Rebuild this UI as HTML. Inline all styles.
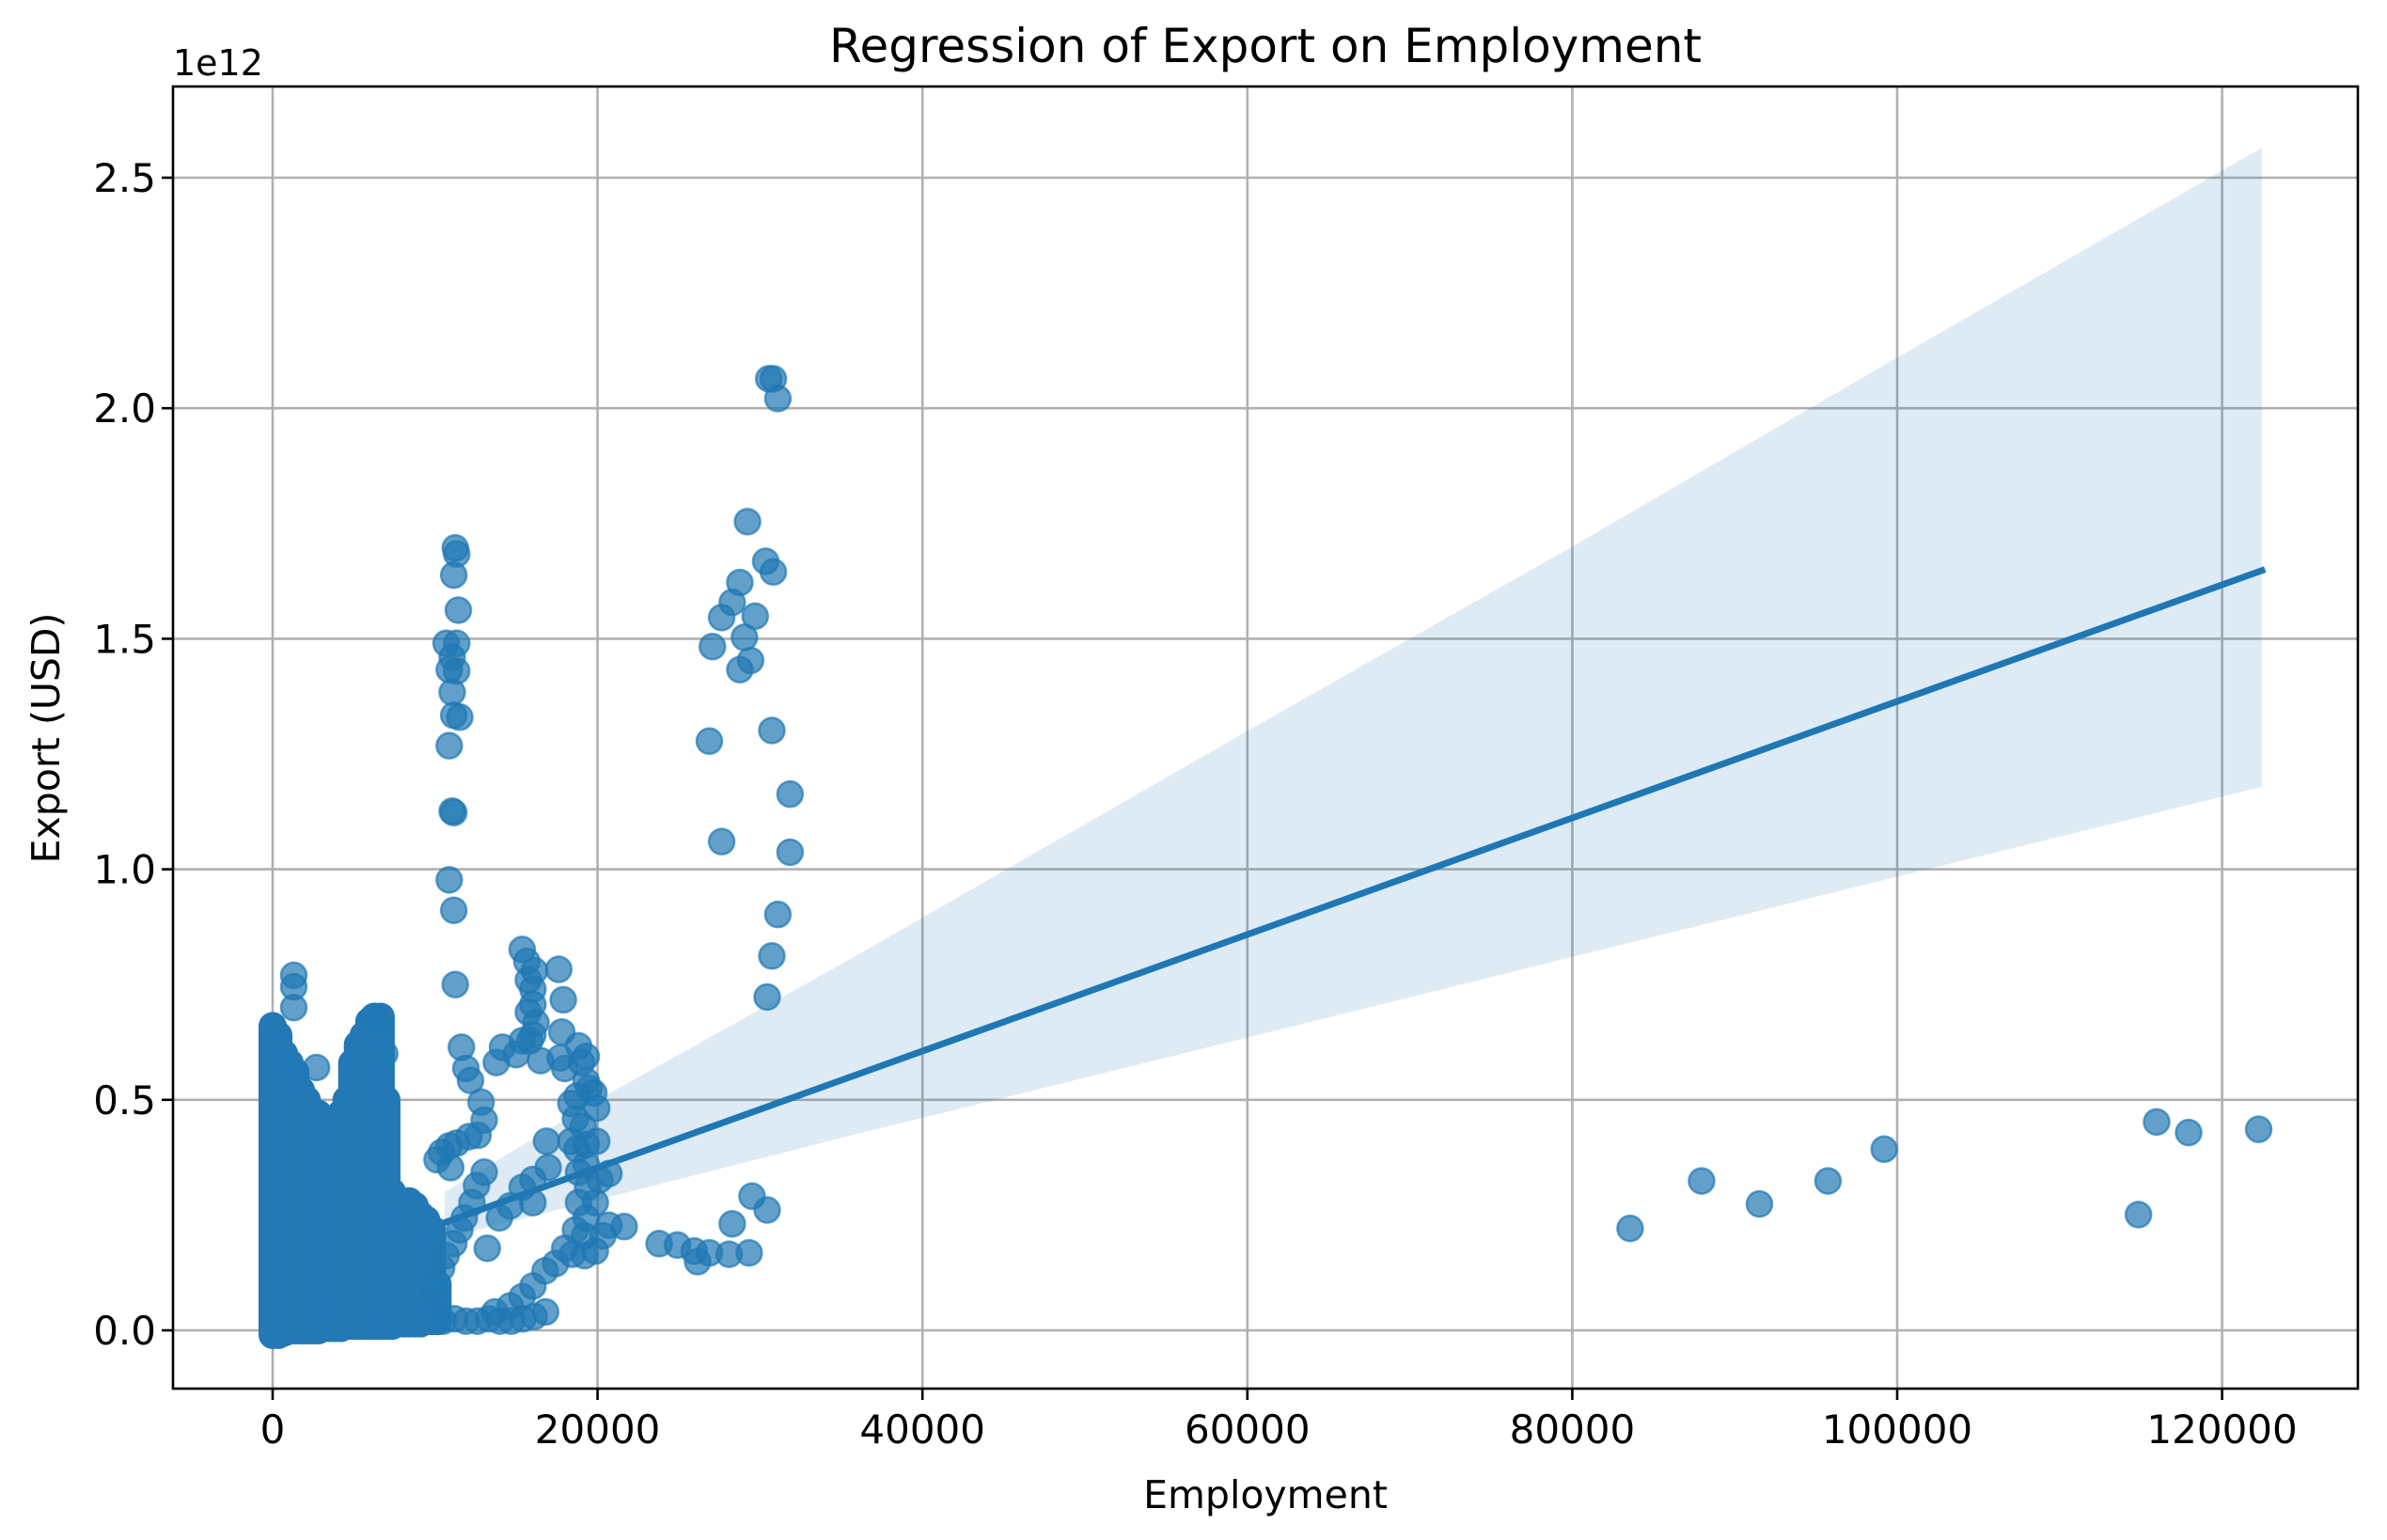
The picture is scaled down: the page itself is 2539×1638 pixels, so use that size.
<!DOCTYPE html>
<html><head><meta charset="utf-8"><style>
html,body{margin:0;padding:0;background:#fff;}
svg{display:block;font-family:"DejaVu Sans","Liberation Sans",sans-serif;}
</style></head><body>
<svg id="chart" width="2539" height="1638" viewBox="0 0 2539 1638" xmlns="http://www.w3.org/2000/svg">
<rect width="2539" height="1638" fill="#fff"/>
<g id="grid"></g>
<g id="band"></g>
<g id="points"></g>
<g id="reg"></g>
<g id="axes"></g>
<text x="1346" y="66" font-size="50" text-anchor="middle">Regression of Export on Employment</text>
<text x="1346" y="1604" font-size="41" text-anchor="middle">Employment</text>
<text x="0" y="0" font-size="41" text-anchor="middle" transform="translate(63,785) rotate(-90)">Export (USD)</text>
<text x="184" y="80" font-size="38">1e12</text>
</svg>
<script>
const xTicks = [0, 20000, 40000, 60000, 80000, 100000, 120000];
const xTickLabels = ["0","20000","40000","60000","80000","100000","120000"];
const yTicks = [0, 0.5, 1.0, 1.5, 2.0, 2.5];
const yTickLabels = ["0.0","0.5","1.0","1.5","2.0","2.5"];
const lineX = [10600, 122450];
const lineY = [0.234, 1.648];
const bandX = [10600, 20000, 35300, 60000, 80000, 100000, 122450];
const bandUpper = [0.30, 0.50, 0.80, 1.30, 1.70, 2.11, 2.565];
const bandLower = [0.20, 0.283, 0.42, 0.635, 0.81, 0.984, 1.179];
const pointX = [83560,87960,91520,95740,99200,114850,115970,117940,122250,
30540,30820,31100,29230,30350,30820,28760,28290,27640,29700,27070,29040,28760,29420,26880,30730,31850,27640,31850,31100,30730,30440,
29510,30440,28290,29330,28100,26880,25950,24920,23790,26160,21640,20700,20330,20140,20700,19860,
11240,11330,11150,11430,10680,11330,11050,10870,11330,11050,11150,11520,10870,11050,11150,10870,11150,11240,11620,11900,12180,12830,13020,12640,12080,11330,10870,10400,10120,10960,
10400,10680,11150,11520,11800,12270,12550,13020,9930,9740,
15360,15650,16120,17610,17890,17800,15740,16020,15740,16020,16210,16020,15830,15360,14990,14150,13770,16490,17700,17980,18830,19300,19020,19300,18740,18360,19480,19770,19950,18640,19110,18360,18740,19300,19950,19300,18830,19390,18830,19300,18640,19200,17980,18450,19200,19860,17420,16770,16020,15360,14620,13680,
16860,16960,16020,15360,14620,13960,13210,16020,
10500,11200,11900,12600,13300,14000,14700,15400,16100,16800,
1300,1300,1300,2700,6900,6600,6200];
const pointY = [0.221,0.324,0.274,0.324,0.393,0.251,0.452,0.429,0.436,
2.064,2.064,2.021,1.754,1.668,1.645,1.622,1.579,1.546,1.549,1.483,1.503,1.433,1.453,1.278,1.301,1.163,1.06,1.037,0.902,0.812,0.723,
0.291,0.261,0.231,0.168,0.165,0.168,0.172,0.185,0.188,0.149,0.225,0.228,0.205,0.327,0.340,0.277,
1.697,1.684,1.638,1.562,1.49,1.49,1.46,1.433,1.43,1.384,1.334,1.33,1.268,1.126,1.123,0.977,0.911,0.75,0.614,0.568,0.542,0.495,0.456,0.423,0.42,0.406,0.4,0.386,0.37,0.353,
0.135,0.162,0.188,0.218,0.244,0.277,0.314,0.343,0.096,0.063,
0.826,0.8,0.78,0.783,0.717,0.647,0.76,0.74,0.69,0.707,0.667,0.641,0.628,0.628,0.598,0.614,0.581,0.585,0.591,0.568,0.617,0.594,0.581,0.541,0.508,0.492,0.525,0.515,0.482,0.459,0.442,0.41,0.393,0.403,0.41,0.36,0.343,0.31,0.277,0.244,0.218,0.205,0.178,0.165,0.162,0.172,0.145,0.129,0.096,0.073,0.053,0.04,
0.41,0.353,0.327,0.31,0.27,0.244,0.178,0.277,
0.02,0.025,0.02,0.02,0.025,0.02,0.02,0.025,0.03,0.04,
0.70,0.745,0.77,0.57,0.60,0.66,0.68];
const runX = [0,350,700,1050,1400,1750,2100,2450,2800,3150,3500,3850,4200,4550,4900,5250,5600,5950,6300,6650,7000,7350,7700,8050,8400,8750,9100,9450,9800,10150];
const runTop = [0.66,0.64,0.60,0.58,0.56,0.52,0.50,0.47,0.47,0.44,0.42,0.44,0.47,0.50,0.58,0.62,0.64,0.67,0.68,0.68,0.50,0.30,0.28,0.27,0.28,0.27,0.25,0.24,0.22,0.10];
const runBottom = [-0.01,-0.01,-0.005,0,0,0,0,0,0,0.005,0.005,0.005,0.005,0.01,0.01,0.01,0.01,0.01,0.01,0.01,0.01,0.01,0.015,0.015,0.015,0.015,0.015,0.02,0.02,0.02];

const NS = "http://www.w3.org/2000/svg";
const L = 184, R = 2508, T = 92, B = 1477;
function sx(v){ return 290 + v / 20000 * 345.6; }
function sy(v){ return 1415 - v / 0.5 * 245.2; }
function mk(tag, parent){ const e = document.createElementNS(NS, tag); parent.appendChild(e); return e; }

const grid = document.getElementById('grid');
const axes = document.getElementById('axes');
xTicks.forEach((t, i) => {
  const g = mk('line', grid);
  
  
  g.setAttribute('x1', sx(t)); g.setAttribute('x2', sx(t)); g.setAttribute('y1', T); g.setAttribute('y2', B);
  g.setAttribute('stroke', '#b0b0b0'); g.setAttribute('stroke-width', '2.6');
  const tk = mk('line', axes);
  
  
  tk.setAttribute('x1', sx(t)); tk.setAttribute('x2', sx(t)); tk.setAttribute('y1', B); tk.setAttribute('y2', B + 12);
  tk.setAttribute('stroke', '#000'); tk.setAttribute('stroke-width', '2.6');
  const lb = mk('text', axes);
  
  
  lb.setAttribute('x', sx(t)); lb.setAttribute('y', B + 58); lb.setAttribute('font-size', '42'); lb.setAttribute('text-anchor', 'middle');
  lb.textContent = xTickLabels[i];
});
yTicks.forEach((t, i) => {
  const g = mk('line', grid);
  
  
  g.setAttribute('x1', L); g.setAttribute('x2', R); g.setAttribute('y1', sy(t)); g.setAttribute('y2', sy(t));
  g.setAttribute('stroke', '#b0b0b0'); g.setAttribute('stroke-width', '2.6');
  const tk = mk('line', axes);
  
  
  tk.setAttribute('x1', L - 12); tk.setAttribute('x2', L); tk.setAttribute('y1', sy(t)); tk.setAttribute('y2', sy(t));
  tk.setAttribute('stroke', '#000'); tk.setAttribute('stroke-width', '2.6');
  const lb = mk('text', axes);
  
  
  lb.setAttribute('x', L - 18); lb.setAttribute('y', sy(t) + 15); lb.setAttribute('font-size', '42'); lb.setAttribute('text-anchor', 'end');
  lb.textContent = yTickLabels[i];
});
const frame = mk('rect', axes);


frame.setAttribute('x', L); frame.setAttribute('y', T); frame.setAttribute('width', R - L); frame.setAttribute('height', B - T);
frame.setAttribute('fill', 'none'); frame.setAttribute('stroke', '#000'); frame.setAttribute('stroke-width', '2.6');

let d = '';
bandX.forEach((x, i) => { d += (i ? 'L' : 'M') + sx(x) + ',' + sy(bandUpper[i]); });
for (let i = bandX.length - 1; i >= 0; i--) d += 'L' + sx(bandX[i]) + ',' + sy(bandLower[i]);
const band = mk('path', document.getElementById('band'));


band.setAttribute('d', d + 'Z'); band.setAttribute('fill', '#1f77b4'); band.setAttribute('fill-opacity', '0.15');

const pg = document.getElementById('points');
runX.forEach((x, i) => {
  const r = mk('line', pg);
  
  
  r.setAttribute('x1', sx(x)); r.setAttribute('x2', sx(x));
  r.setAttribute('y1', sy(runBottom[i])); r.setAttribute('y2', sy(runTop[i]));
  r.setAttribute('stroke', '#2379b5'); r.setAttribute('stroke-width', '30'); r.setAttribute('stroke-linecap', 'round');
});
function dot(x, y){
  const c = mk('circle', pg);
  
  
  c.setAttribute('cx', sx(x)); c.setAttribute('cy', sy(y)); c.setAttribute('r', 13.5);
  c.setAttribute('fill', '#1f77b4'); c.setAttribute('fill-opacity', '0.7');
  c.setAttribute('stroke', '#1f77b4'); c.setAttribute('stroke-opacity', '0.7'); c.setAttribute('stroke-width', '2.5');
}
pointX.forEach((x, i) => dot(x, pointY[i]));

const ln = mk('line', document.getElementById('reg'));


ln.setAttribute('x1', sx(lineX[0])); ln.setAttribute('y1', sy(lineY[0]));
ln.setAttribute('x2', sx(lineX[1])); ln.setAttribute('y2', sy(lineY[1]));
ln.setAttribute('stroke', '#1f77b4'); ln.setAttribute('stroke-width', '7'); ln.setAttribute('stroke-linecap', 'square');
</script>
</body></html>
